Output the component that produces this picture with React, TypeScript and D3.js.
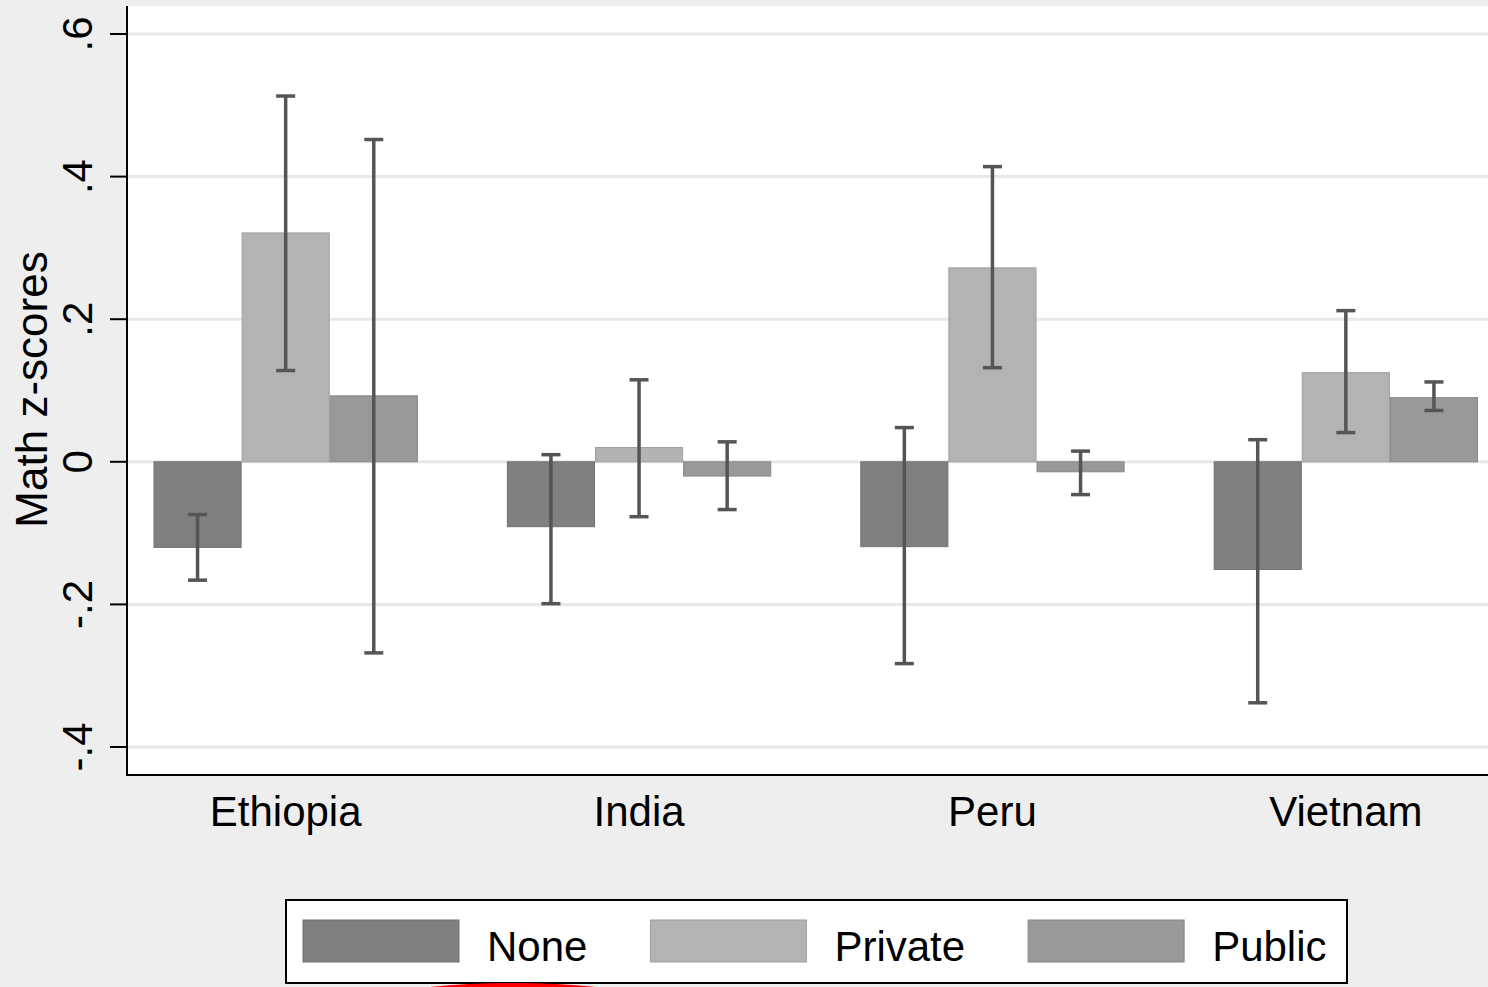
import React, { useEffect, useRef } from 'react';
import * as d3 from 'd3';

// --- data ---
const countries = ['Ethiopia', 'India', 'Peru', 'Vietnam'];
const groups = ['None', 'Private', 'Public'];
const groupColors = ['#808080', '#b3b3b3', '#999999'];

// mean z-score per country, one array per group
const noneMeans = [-0.12, -0.091, -0.119, -0.151];
const privateMeans = [0.321, 0.02, 0.272, 0.125];
const publicMeans = [0.0925, -0.02, -0.014, 0.09];

// confidence interval bounds
const noneLo = [-0.166, -0.199, -0.283, -0.338];
const noneHi = [-0.074, 0.01, 0.048, 0.031];
const privateLo = [0.128, -0.077, 0.132, 0.041];
const privateHi = [0.513, 0.115, 0.414, 0.212];
const publicLo = [-0.268, -0.067, -0.046, 0.072];
const publicHi = [0.452, 0.028, 0.015, 0.112];

const yTicks = [-0.4, -0.2, 0, 0.2, 0.4, 0.6];
const yTickLabels = ['-.4', '-.2', '0', '.2', '.4', '.6'];

const W = 1488;
const H = 987;
const FONT = '"Liberation Sans", Arial, Helvetica, sans-serif';

const App = () => {
    const svgRef = useRef<SVGSVGElement | null>(null);

    useEffect(() => {
        if (!svgRef.current) return;
        const svg = d3.select(svgRef.current);
        svg.selectAll('*').remove();

        const means = [noneMeans, privateMeans, publicMeans];
        const los = [noneLo, privateLo, publicLo];
        const his = [noneHi, privateHi, publicHi];

        const rows = countries.flatMap((c, ci) =>
            groups.map((g, gi) => ({
                country: c,
                group: g,
                gi,
                value: means[gi][ci],
                lo: los[gi][ci],
                hi: his[gi][ci],
            }))
        );

        // plot region
        const plot = { left: 127, right: 1503, top: 6, bottom: 775 };

        const y = d3.scaleLinear().domain([-0.4, 0.6]).range([747, 34]);
        const x0 = d3.scaleBand().domain(countries).range([153.5, 1478]).paddingInner(0.252).paddingOuter(0);
        const x1 = d3.scaleBand().domain(groups).range([0, x0.bandwidth()]).padding(0);
        const color = d3.scaleOrdinal<string>().domain(groups).range(groupColors);

        // background
        svg.append('rect').attr('width', W).attr('height', H).attr('fill', '#eeeeee');
        svg.append('rect')
            .attr('x', plot.left).attr('y', plot.top)
            .attr('width', plot.right - plot.left).attr('height', plot.bottom - plot.top)
            .attr('fill', '#ffffff');

        // gridlines
        svg.append('g').selectAll('line').data(yTicks).enter().append('line')
            .attr('x1', plot.left).attr('x2', plot.right)
            .attr('y1', d => y(d)).attr('y2', d => y(d))
            .attr('stroke', '#e8e8e8').attr('stroke-width', 3);

        // bars
        svg.append('g').selectAll('rect').data(rows).enter().append('rect')
            .attr('x', d => (x0(d.country) as number) + (x1(d.group) as number) + 0.5)
            .attr('width', x1.bandwidth() - 1)
            .attr('y', d => y(Math.max(0, d.value)))
            .attr('height', d => Math.abs(y(d.value) - y(0)))
            .attr('fill', d => color(d.group))
            .attr('stroke', d => d3.color(color(d.group))!.darker(0.35).formatHex())
            .attr('stroke-width', 1);

        // error bars
        const cap = 9.5;
        const eb = svg.append('g').attr('stroke', '#555555').attr('stroke-width', 3.5);
        rows.forEach(d => {
            const cx = (x0(d.country) as number) + (x1(d.group) as number) + x1.bandwidth() / 2;
            eb.append('line').attr('x1', cx).attr('x2', cx).attr('y1', y(d.hi)).attr('y2', y(d.lo));
            eb.append('line').attr('x1', cx - cap).attr('x2', cx + cap).attr('y1', y(d.hi)).attr('y2', y(d.hi));
            eb.append('line').attr('x1', cx - cap).attr('x2', cx + cap).attr('y1', y(d.lo)).attr('y2', y(d.lo));
        });

        // y axis
        const yAxis = svg.append('g').attr('transform', `translate(${plot.left},0)`);
        yAxis.append('line').attr('x1', 0).attr('x2', 0).attr('y1', plot.top).attr('y2', plot.bottom + 1)
            .attr('stroke', '#000').attr('stroke-width', 2);
        yAxis.selectAll('line.tick').data(yTicks).enter().append('line').attr('class', 'tick')
            .attr('x1', -17).attr('x2', 0).attr('y1', d => y(d)).attr('y2', d => y(d))
            .attr('stroke', '#000').attr('stroke-width', 2);
        yAxis.selectAll('text').data(yTicks).enter().append('text')
            .attr('transform', d => `translate(-35,${y(d)}) rotate(-90)`)
            .attr('text-anchor', 'middle')
            .style('font-family', FONT).style('font-size', '42px').attr('fill', '#000')
            .text((d, i) => yTickLabels[i]);

        svg.append('text')
            .attr('transform', `translate(47,${(y(-0.4) + y(0.6)) / 2 - 1}) rotate(-90)`)
            .attr('text-anchor', 'middle')
            .style('font-family', FONT).style('font-size', '44px').attr('fill', '#000')
            .text('Math z-scores');

        // x axis
        svg.append('line').attr('x1', plot.left - 1).attr('x2', plot.right)
            .attr('y1', plot.bottom).attr('y2', plot.bottom)
            .attr('stroke', '#000').attr('stroke-width', 2);
        svg.append('g').selectAll('text').data(countries).enter().append('text')
            .attr('x', d => (x0(d) as number) + x0.bandwidth() / 2)
            .attr('y', 826)
            .attr('text-anchor', 'middle')
            .style('font-family', FONT).style('font-size', '42px').attr('fill', '#000')
            .text(d => d);

        // legend
        const legend = svg.append('g');
        legend.append('rect').attr('x', 286).attr('y', 900).attr('width', 1061).attr('height', 83)
            .attr('fill', '#fff').attr('stroke', '#000').attr('stroke-width', 2);
        let lx = 303;
        groups.forEach(g => {
            legend.append('rect').attr('x', lx).attr('y', 920).attr('width', 156).attr('height', 42)
                .attr('fill', color(g)).attr('stroke', d3.color(color(g))!.darker(0.35).formatHex()).attr('stroke-width', 1);
            const t = legend.append('text').attr('x', lx + 184).attr('y', 961)
                .style('font-family', FONT).style('font-size', '42px').attr('fill', '#000')
                .text(g);
            const tw = (t.node() as SVGTextElement).getComputedTextLength();
            lx = lx + 184 + tw + 63;
        });

        // red annotation ellipse peeking in at the bottom
        svg.append('ellipse').attr('cx', 513).attr('cy', 1042).attr('rx', 220).attr('ry', 57)
            .attr('fill', 'none').attr('stroke', '#ff0000').attr('stroke-width', 4);
    }, []);

    return (
        <svg ref={svgRef} width={W} height={H}
            style={{ position: 'absolute', left: 0, top: 0, display: 'block' }} />
    );
};

export default App;
